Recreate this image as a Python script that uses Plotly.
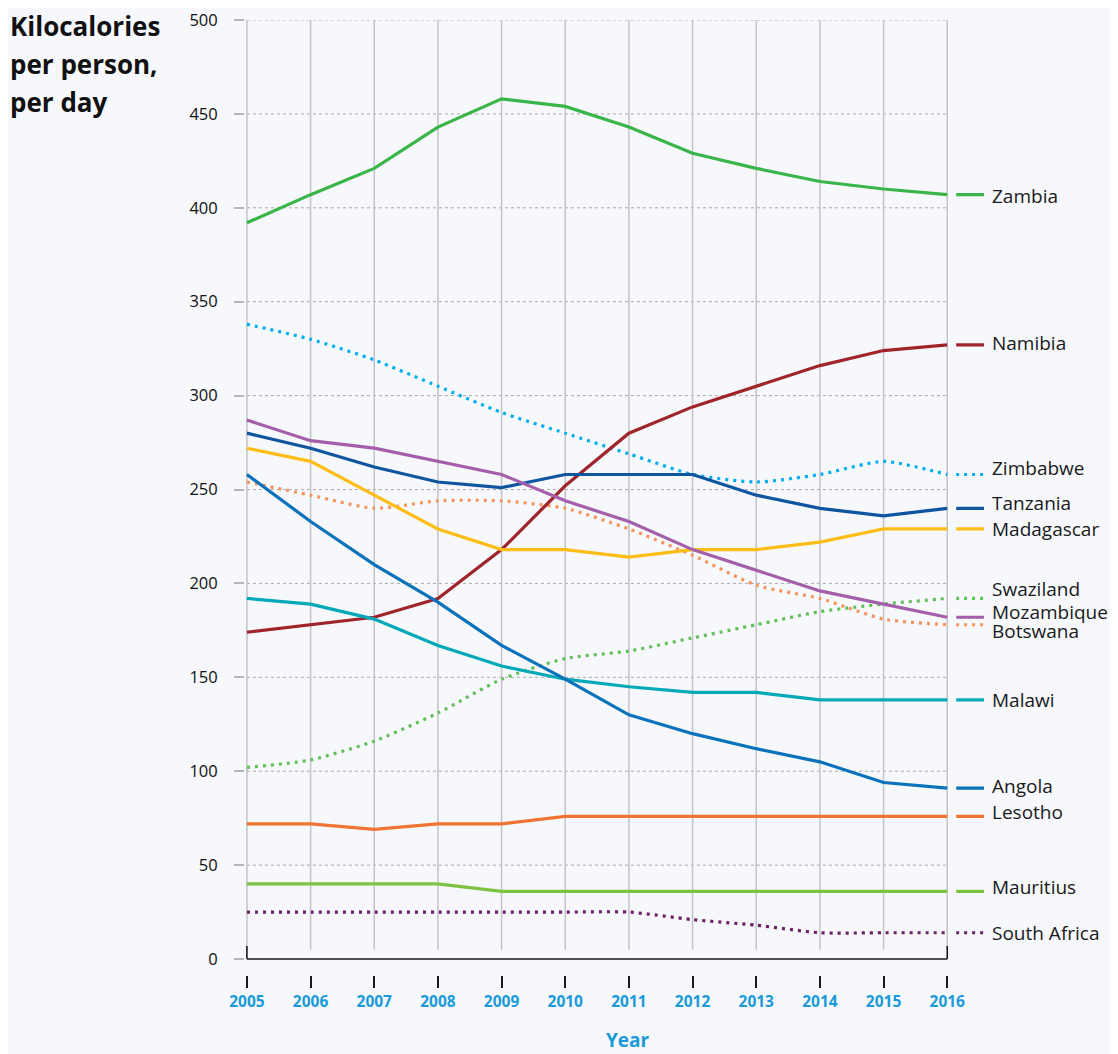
import plotly.graph_objects as go

years = [2005, 2006, 2007, 2008, 2009, 2010, 2011, 2012, 2013, 2014, 2015, 2016]

zambia = [392, 407, 421, 443, 458, 454, 443, 429, 421, 414, 410, 407]
namibia = [174, 178, 182, 192, 218, 252, 280, 294, 305, 316, 324, 327]
zimbabwe = [338, 330, 319, 305, 291, 280, 269, 258, 254, 258, 265, 258]
tanzania = [280, 272, 262, 254, 251, 258, 258, 258, 247, 240, 236, 240]
madagascar = [272, 265, 247, 229, 218, 218, 214, 218, 218, 222, 229, 229]
swaziland = [102, 106, 116, 131, 149, 160, 164, 171, 178, 185, 189, 192]
mozambique = [287, 276, 272, 265, 258, 244, 233, 218, 207, 196, 189, 182]
botswana = [254, 247, 240, 244, 244, 240, 229, 215, 199, 192, 181, 178]
malawi = [192, 189, 181, 167, 156, 149, 145, 142, 142, 138, 138, 138]
angola = [258, 233, 210, 190, 167, 149, 130, 120, 112, 105, 94, 91]
lesotho = [72, 72, 69, 72, 72, 76, 76, 76, 76, 76, 76, 76]
mauritius = [40, 40, 40, 40, 36, 36, 36, 36, 36, 36, 36, 36]
south_africa = [25, 25, 25, 25, 25, 25, 25, 21, 18, 14, 14, 14]

y_ticks = [0, 50, 100, 150, 200, 250, 300, 350, 400, 450, 500]

# (name, values, color, dotted, label y-shift in px)
series = [
    ("Zimbabwe", zimbabwe, "#00aeef", True, 6),
    ("Swaziland", swaziland, "#62bf5a", True, 9),
    ("Botswana", botswana, "#f7925c", True, -6),
    ("South Africa", south_africa, "#6a2166", True, 0),
    ("Zambia", zambia, "#39b54a", False, -1),
    ("Namibia", namibia, "#a0252a", False, 2),
    ("Tanzania", tanzania, "#0f55a0", False, 5),
    ("Madagascar", madagascar, "#fdbd16", False, 0),
    ("Mozambique", mozambique, "#a45fab", False, 5),
    ("Malawi", malawi, "#00a8b8", False, 0),
    ("Angola", angola, "#0a72ba", False, 2),
    ("Lesotho", lesotho, "#f37432", False, 4),
    ("Mauritius", mauritius, "#7ec242", False, 4),
]

FONT = "Open Sans"
BG = "#f6f8fc"
Y_RANGE = [-8.5, 500]

fig = go.Figure()
annotations = []
for name, vals, color, dotted, yshift in series:
    line = dict(color=color, width=3.2)
    if dotted:
        line["dash"] = "3px,5px"
        line["shape"] = "spline"
        line["smoothing"] = 0.6
    fig.add_trace(go.Scatter(x=years, y=vals, mode="lines", name=name,
                             line=line, showlegend=False, hoverinfo="x+y+name"))
    # label sample segment
    sline = dict(color=color, width=3.2)
    if dotted:
        sline["dash"] = "3px,5px"
    fig.add_trace(go.Scatter(x=[0, 1], y=[vals[-1], vals[-1]], mode="lines",
                             line=sline, xaxis="x2", yaxis="y2",
                             showlegend=False, hoverinfo="skip"))
    annotations.append(dict(xref="x2", yref="y2", x=1, y=vals[-1], text=name,
                            xanchor="left", yanchor="middle", xshift=6, yshift=yshift,
                            showarrow=False,
                            font=dict(family=FONT, size=19, color="#1a1a1a")))

shapes = []
for v in y_ticks[1:]:
    shapes.append(dict(type="line", xref="x", yref="y", x0=years[0], x1=years[-1],
                       y0=v, y1=v, layer="below",
                       line=dict(color="#a9a9a9", width=1, dash="3px,3px")))
for yr in years:
    shapes.append(dict(type="line", xref="x", yref="y", x0=yr, x1=yr,
                       y0=5, y1=y_ticks[-1], layer="below",
                       line=dict(color="#c3c3c8", width=1.5)))
shapes.append(dict(type="line", xref="x", yref="y", x0=years[0], x1=years[-1],
                   y0=0, y1=0, line=dict(color="#1a1a1a", width=1.6)))
for yr in (years[0], years[-1]):
    shapes.append(dict(type="line", xref="x", yref="y", x0=yr, x1=yr,
                       y0=0, y1=7, line=dict(color="#1a1a1a", width=1.6)))

# Title lines
for txt, yp in (("Kilocalories", 0.9937), ("per person,", 0.9540), ("per day", 0.9145)):
    annotations.append(dict(xref="paper", yref="paper", x=-0.2795, y=yp, text="<b>%s</b>" % txt,
                            xanchor="left", yanchor="middle", showarrow=False,
                            font=dict(family=FONT, size=26, color="#111111")))
annotations.append(dict(xref="paper", yref="paper", x=0.4506, y=-0.0685, text="<b>Year</b>",
                        xanchor="center", yanchor="middle", showarrow=False,
                        font=dict(family=FONT, size=19, color="#1a9ad8")))

fig.update_layout(
    width=1102, height=1046,
    margin=dict(l=237, r=0, t=8, b=79),
    paper_bgcolor=BG, plot_bgcolor=BG,
    font=dict(family=FONT),
    xaxis=dict(domain=[0, 0.8294], range=[years[0] - 0.03, years[-1] + 0.03],
               anchor="y", tickvals=years, ticktext=[str(y) for y in years],
               ticks="outside", ticklen=12, tickwidth=1.5, tickcolor="#1a1a1a",
               showgrid=False, zeroline=False, showline=False,
               tickfont=dict(family=FONT, size=15.5, color="#1a9ad8", weight="bold")),
    yaxis=dict(range=Y_RANGE, anchor="x", tickvals=y_ticks,
               ticktext=[str(v) for v in y_ticks],
               ticks="outside", ticklen=10, tickwidth=1.5, tickcolor="#b5b5b5",
               ticklabelstandoff=13, ticklabeloverflow="allow",
               showgrid=False, zeroline=False, showline=False,
               tickfont=dict(family=FONT, size=16.5, color="#111111")),
    xaxis2=dict(domain=[0.8376, 0.8706], range=[0, 1], anchor="y2", visible=False),
    yaxis2=dict(range=Y_RANGE, anchor="x2", visible=False),
    shapes=shapes,
    annotations=annotations,
)

fig.write_html("out.html", config={"displayModeBar": False})
